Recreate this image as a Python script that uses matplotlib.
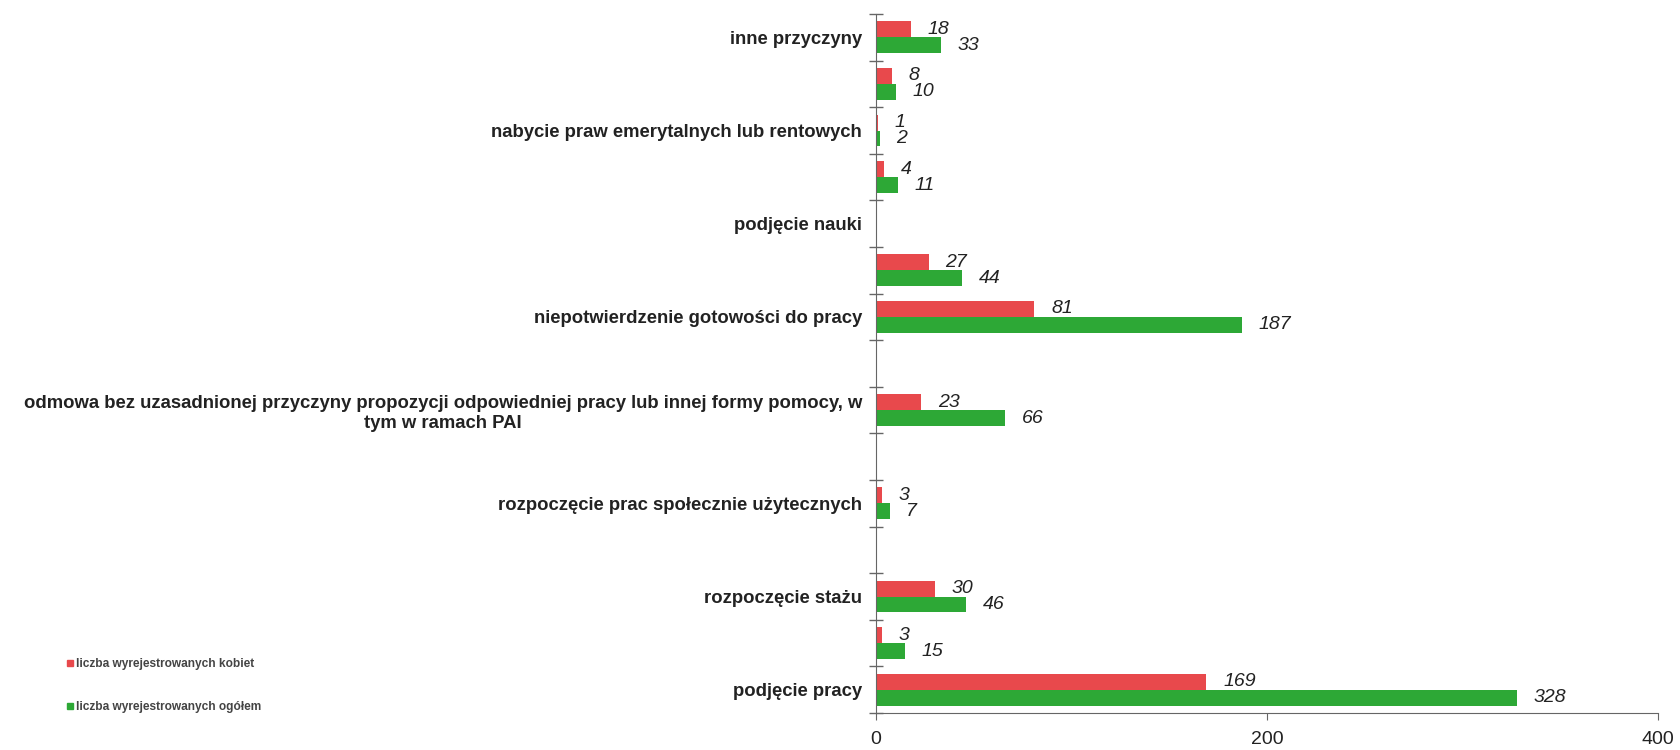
import numpy as np
import matplotlib
matplotlib.use("Agg")
import matplotlib.pyplot as plt
from matplotlib.patches import Patch

# Categories from bottom to top (hidden labels are empty strings)
categories = [
    "podjęcie pracy",
    "",
    "rozpoczęcie stażu",
    "",
    "rozpoczęcie prac społecznie użytecznych",
    "",
    "odmowa bez uzasadnionej przyczyny propozycji odpowiedniej pracy lub innej formy pomocy, w\ntym w ramach PAI",
    "",
    "niepotwierdzenie gotowości do pracy",
    "",
    "podjęcie nauki",
    "",
    "nabycie praw emerytalnych lub rentowych",
    "",
    "inne przyczyny",
]
kobiety = [169, 3, 30, np.nan, 3, np.nan, 23, np.nan, 81, 27, np.nan, 4, 1, 8, 18]
ogolem = [328, 15, 46, np.nan, 7, np.nan, 66, np.nan, 187, 44, np.nan, 11, 2, 10, 33]
series_names = ["liczba wyrejestrowanych kobiet", "liczba wyrejestrowanych ogółem"]
x_ticks = [0, 200, 400]

RED = "#E8494C"
GREEN = "#2DA836"

fig = plt.figure(figsize=(16.81, 7.5), dpi=100)
ax = fig.add_axes([876 / 1681, 37 / 750, (1658 - 876) / 1681, (713 - 14) / 750])

y = np.arange(len(categories))
h = 0.34
ax.barh(y + h / 2, kobiety, height=h, color=RED)
ax.barh(y - h / 2, ogolem, height=h, color=GREEN)

for yi, v in zip(y, kobiety):
    if not np.isnan(v):
        ax.annotate(f"{int(v)}", (v, yi + h / 2), xytext=(12, 0), textcoords="offset points",
                    va="center", ha="left", fontsize=14, style="italic",
                    family="Liberation Sans", color="#222222")
for yi, v in zip(y, ogolem):
    if not np.isnan(v):
        ax.annotate(f"{int(v)}", (v, yi - h / 2), xytext=(12, 0), textcoords="offset points",
                    va="center", ha="left", fontsize=14, style="italic",
                    family="Liberation Sans", color="#222222")

ax.set_xlim(0, 400)
ax.set_ylim(-0.5, len(categories) - 0.5)
ax.set_xticks(x_ticks)
ax.set_xticklabels([str(t) for t in x_ticks], fontsize=14, family="Liberation Sans", color="#222222")
ax.set_yticks(y)
ax.set_yticklabels(categories, fontsize=13.3, fontweight="bold", family="Liberation Sans",
                   color="#222222", multialignment="center")
ax.set_yticks(np.arange(len(categories) + 1) - 0.5, minor=True)
ax.tick_params(axis="y", which="major", length=0, pad=10)
ax.tick_params(axis="y", which="minor", length=10, direction="inout", color="#666666", width=1)
ax.tick_params(axis="x", which="major", length=5, direction="out", color="#666666", pad=8)

for s in ["top", "right"]:
    ax.spines[s].set_visible(False)
ax.spines["left"].set_color("#666666")
ax.spines["bottom"].set_color("#666666")

handles = [Patch(color=RED), Patch(color=GREEN)]
fig.legend(handles, series_names, loc="lower left", bbox_to_anchor=(56 / 1681, 26 / 750),
           frameon=False, handlelength=0.5, handleheight=0.5, handletextpad=0.3,
           labelspacing=2.6, prop={"family": "Liberation Sans", "weight": "bold", "size": 8.6},
           labelcolor="#444444")

fig.savefig("out.png", dpi=100, facecolor="white")
